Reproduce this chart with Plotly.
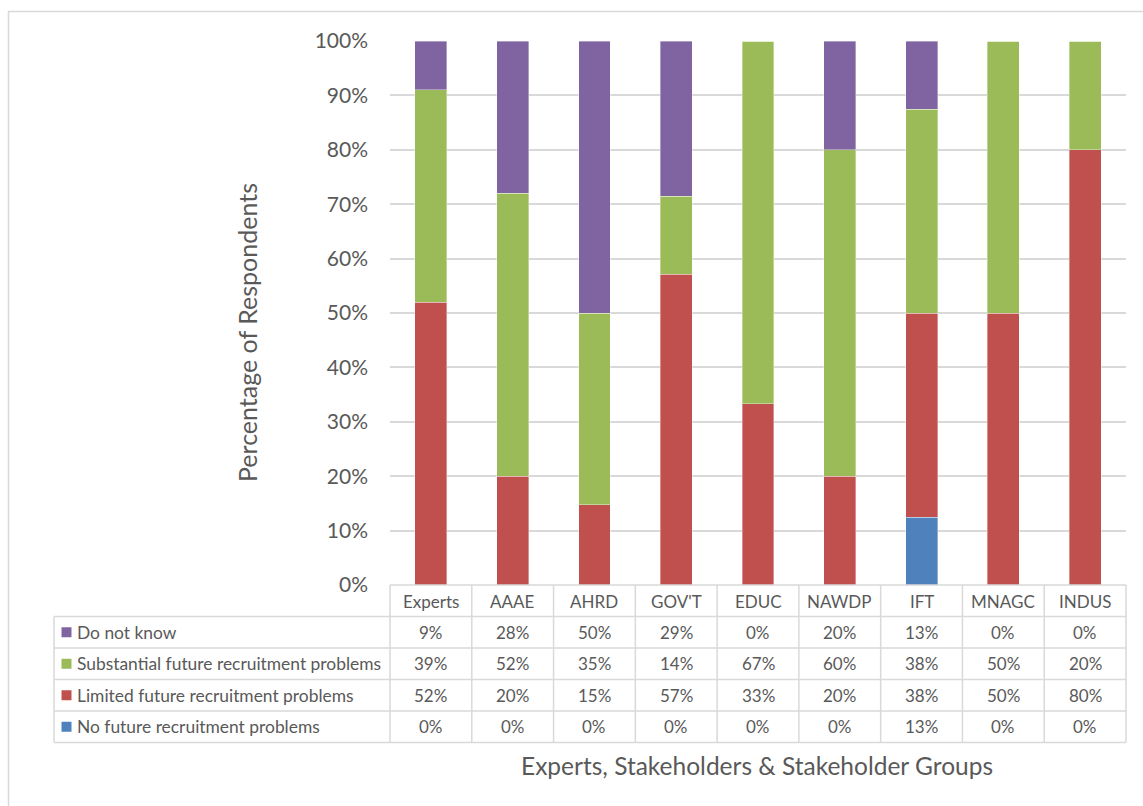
import math
import plotly.graph_objects as go

# Survey results: share of respondents per group (percent)
categories = ["Experts", "AAAE", "AHRD", "GOV'T", "EDUC", "NAWDP", "IFT", "MNAGC", "INDUS"]
no_problems = [0, 0, 0, 0, 0, 0, 12.5, 0, 0]
limited = [52, 20, 14.71, 57.14, 33.33, 20, 37.5, 50, 80]
substantial = [39, 52, 35.29, 14.29, 66.67, 60, 37.5, 50, 20]
do_not_know = [9, 28, 50, 28.57, 0, 20, 12.5, 0, 0]

series_names = [
    "No future recruitment problems",
    "Limited future recruitment problems",
    "Substantial future recruitment problems",
    "Do not know",
]
series_values = [no_problems, limited, substantial, do_not_know]
series_colors = ["#4F81BD", "#C0504D", "#9BBB59", "#8064A2"]

y_ticks = list(range(0, 101, 10))
y_tick_text = [f"{v}%" for v in y_ticks]

W, H = 1143, 806
L, R, T, B = 390, 1126, 41, 585  # plot area in pixels
FONT = "Lato"
GREY_TXT = "#595959"
LINE = "#D9D9D9"
TABLE_SIZE = 17


def px(x):
    return (x - L) / (R - L)


def py(y):
    return (B - y) / (B - T)


def pct(v):
    return f"{int(math.floor(v + 0.5))}%"


fig = go.Figure()
for name, vals, col in zip(series_names, series_values, series_colors):
    fig.add_trace(go.Bar(
        x=categories, y=vals, name=name,
        marker=dict(color=col, line=dict(color="rgba(255,255,255,0.6)", width=0.6)),
        hoverinfo="x+y+name",
    ))

shapes = []
annotations = []

# outer chart border
shapes.append(dict(type="rect", xref="paper", yref="paper",
                   x0=px(8.5), x1=px(1160), y0=py(11.5), y1=py(830),
                   line=dict(color=LINE, width=1.5), fillcolor="rgba(0,0,0,0)", layer="below"))

# data table grid
row_edges = [585, 616.5, 648, 679.5, 711, 742.5]
col_w = (R - L) / len(categories)
for i, yy in enumerate(row_edges):
    x0 = L if i == 0 else 54
    shapes.append(dict(type="line", xref="paper", yref="paper",
                       x0=px(x0), x1=px(R), y0=py(yy), y1=py(yy),
                       line=dict(color=LINE, width=1.5)))
for j in range(len(categories) + 1):
    xx = L + j * col_w
    shapes.append(dict(type="line", xref="paper", yref="paper",
                       x0=px(xx), x1=px(xx), y0=py(585), y1=py(742.5),
                       line=dict(color=LINE, width=1.5)))
shapes.append(dict(type="line", xref="paper", yref="paper",
                   x0=px(54), x1=px(54), y0=py(616.5), y1=py(742.5),
                   line=dict(color=LINE, width=1.5)))

cell_font = dict(family=FONT, size=TABLE_SIZE, color=GREY_TXT)

# header row: category names
for c in categories:
    annotations.append(dict(x=c, xref="x", y=py(601), yref="paper", text=c,
                            xanchor="center", yanchor="middle",
                            showarrow=False, font=cell_font))

# table rows: top row is the top of the stack
table_rows = list(zip(series_names, series_values, series_colors))[::-1]
for r, (name, vals, col) in enumerate(table_rows):
    yc = (row_edges[r + 1] + row_edges[r + 2]) / 2
    shapes.append(dict(type="rect", xref="paper", yref="paper",
                       x0=px(61.5), x1=px(71.5), y0=py(yc - 5), y1=py(yc + 5),
                       fillcolor=col, line=dict(width=0)))
    annotations.append(dict(x=px(75), xref="paper", y=py(yc), yref="paper", text=name,
                            xanchor="left", yanchor="middle", showarrow=False,
                            font=dict(family=FONT, size=17.4, color=GREY_TXT)))
    for c, v in zip(categories, vals):
        annotations.append(dict(x=c, xref="x", y=py(yc), yref="paper", text=pct(v),
                                xanchor="center", yanchor="middle",
                                showarrow=False, font=cell_font))

# axis titles
annotations.append(dict(x=px(247), xref="paper", y=py(333), yref="paper",
                        text="Percentage of Respondents", textangle=-90, showarrow=False,
                        xanchor="center", yanchor="middle",
                        font=dict(family=FONT, size=25, color=GREY_TXT)))
annotations.append(dict(x=px(757), xref="paper", y=py(765), yref="paper",
                        text="Experts, Stakeholders & Stakeholder Groups", showarrow=False,
                        xanchor="center", yanchor="middle",
                        font=dict(family=FONT, size=24.5, color=GREY_TXT)))

fig.update_layout(
    width=W, height=H,
    margin=dict(l=L, r=W - R, t=T, b=H - B, pad=0),
    barmode="stack", bargap=0.61,
    plot_bgcolor="white", paper_bgcolor="white",
    showlegend=False,
    shapes=shapes, annotations=annotations,
    xaxis=dict(showticklabels=False, showgrid=False, zeroline=False, showline=False,
               ticks="", range=[-0.5, len(categories) - 0.5]),
    yaxis=dict(range=[0, 100], tickvals=y_ticks, ticktext=y_tick_text,
               showgrid=True, gridcolor=LINE, gridwidth=1.5, zeroline=False,
               showline=False, ticks="", ticklabelstandoff=21,
               tickfont=dict(family=FONT, size=21, color=GREY_TXT)),
)

fig.write_html("out.html")
